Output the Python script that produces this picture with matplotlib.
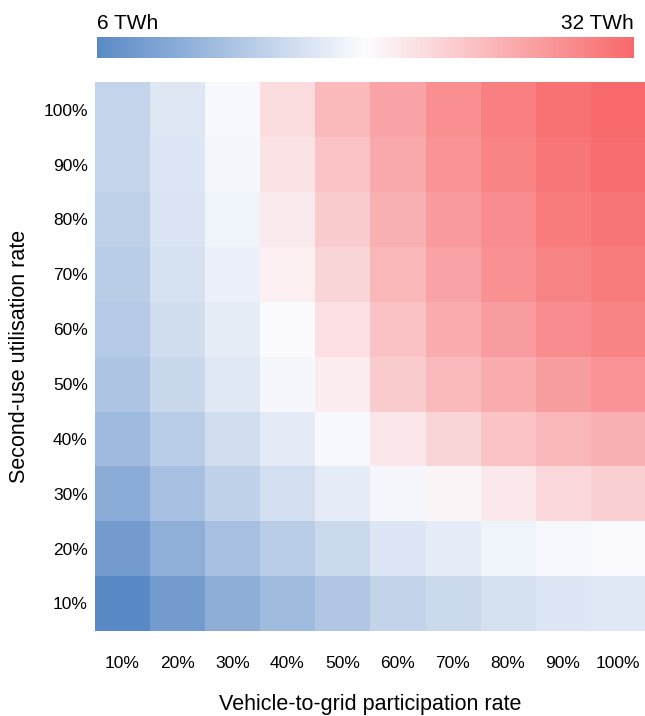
import numpy as np
import matplotlib
matplotlib.use("Agg")
import matplotlib.pyplot as plt
from matplotlib.colors import LinearSegmentedColormap, TwoSlopeNorm

plt.rcParams['font.family'] = ['Liberation Sans', 'DejaVu Sans']

v2g_labels = ["10%", "20%", "30%", "40%", "50%", "60%", "70%", "80%", "90%", "100%"]
second_use_labels = ["10%", "20%", "30%", "40%", "50%", "60%", "70%", "80%", "90%", "100%"]

# TWh, rows = second-use utilisation 10%..100%, cols = V2G participation 10%..100%
row_10 = [6.0, 8.1, 10.2, 11.6, 13.0, 14.4, 15.1, 15.9, 16.5, 16.8]
row_20 = [8.1, 10.3, 12.2, 13.8, 15.1, 16.5, 17.2, 18.0, 18.6, 18.8]
row_30 = [10.0, 12.2, 14.3, 15.8, 17.2, 18.5, 19.6, 20.7, 22.1, 22.9]
row_40 = [11.5, 13.8, 15.7, 17.1, 18.6, 20.8, 22.4, 23.9, 25.0, 25.7]
row_50 = [12.8, 15.0, 16.8, 18.5, 20.4, 23.3, 24.7, 26.0, 27.3, 28.2]
row_60 = [13.4, 15.5, 17.3, 19.1, 21.5, 24.0, 26.0, 27.4, 28.8, 29.5]
row_70 = [13.8, 16.0, 17.7, 20.1, 22.4, 25.0, 26.8, 28.4, 29.6, 30.3]
row_80 = [14.2, 16.3, 18.0, 20.6, 23.2, 25.7, 27.5, 28.8, 30.3, 30.8]
row_90 = [14.5, 16.5, 18.4, 21.3, 23.9, 26.3, 28.2, 29.5, 30.7, 31.4]
row_100 = [14.6, 16.7, 18.6, 21.7, 24.7, 26.8, 28.6, 29.9, 31.1, 32.0]

vmin, vmid, vmax = 6, 19, 32

data = np.array([row_10, row_20, row_30, row_40, row_50,
                 row_60, row_70, row_80, row_90, row_100])

cmap = LinearSegmentedColormap.from_list("bwr_xl", ["#5A8AC6", "#FCFCFF", "#F8696B"])
norm = TwoSlopeNorm(vmin=vmin, vcenter=vmid, vmax=vmax)

fig = plt.figure(figsize=(6.45, 7.16), dpi=100)
ax = fig.add_axes([0.147, 0.119, 0.853, 0.766])
im = ax.imshow(data, cmap=cmap, norm=norm, origin="lower", aspect="auto",
               interpolation="nearest")

ax.set_xticks(range(len(v2g_labels)))
ax.set_xticklabels(v2g_labels, fontsize=12.5)
ax.set_yticks(range(len(second_use_labels)))
ax.set_yticklabels(second_use_labels, fontsize=12.5)
ax.tick_params(axis='y', length=0, pad=5)
ax.tick_params(axis='x', length=0, pad=18)
for s in ax.spines.values():
    s.set_visible(False)

ax.set_xlabel("Vehicle-to-grid participation rate", fontsize=15.5)
ax.xaxis.set_label_coords(0.5, -0.116)
ax.set_ylabel("Second-use utilisation rate", fontsize=15.5)
ax.yaxis.set_label_coords(-0.118, 0.5)

cax = fig.add_axes([0.150, 0.919, 0.833, 0.030])
cb = fig.colorbar(im, cax=cax, orientation="horizontal")
cb.set_ticks([])
cb.outline.set_visible(False)
cax.text(0, 1.15, "6 TWh", transform=cax.transAxes, ha="left", va="bottom", fontsize=15)
cax.text(1, 1.15, "32 TWh", transform=cax.transAxes, ha="right", va="bottom", fontsize=15)

fig.savefig("out.png", dpi=100)
